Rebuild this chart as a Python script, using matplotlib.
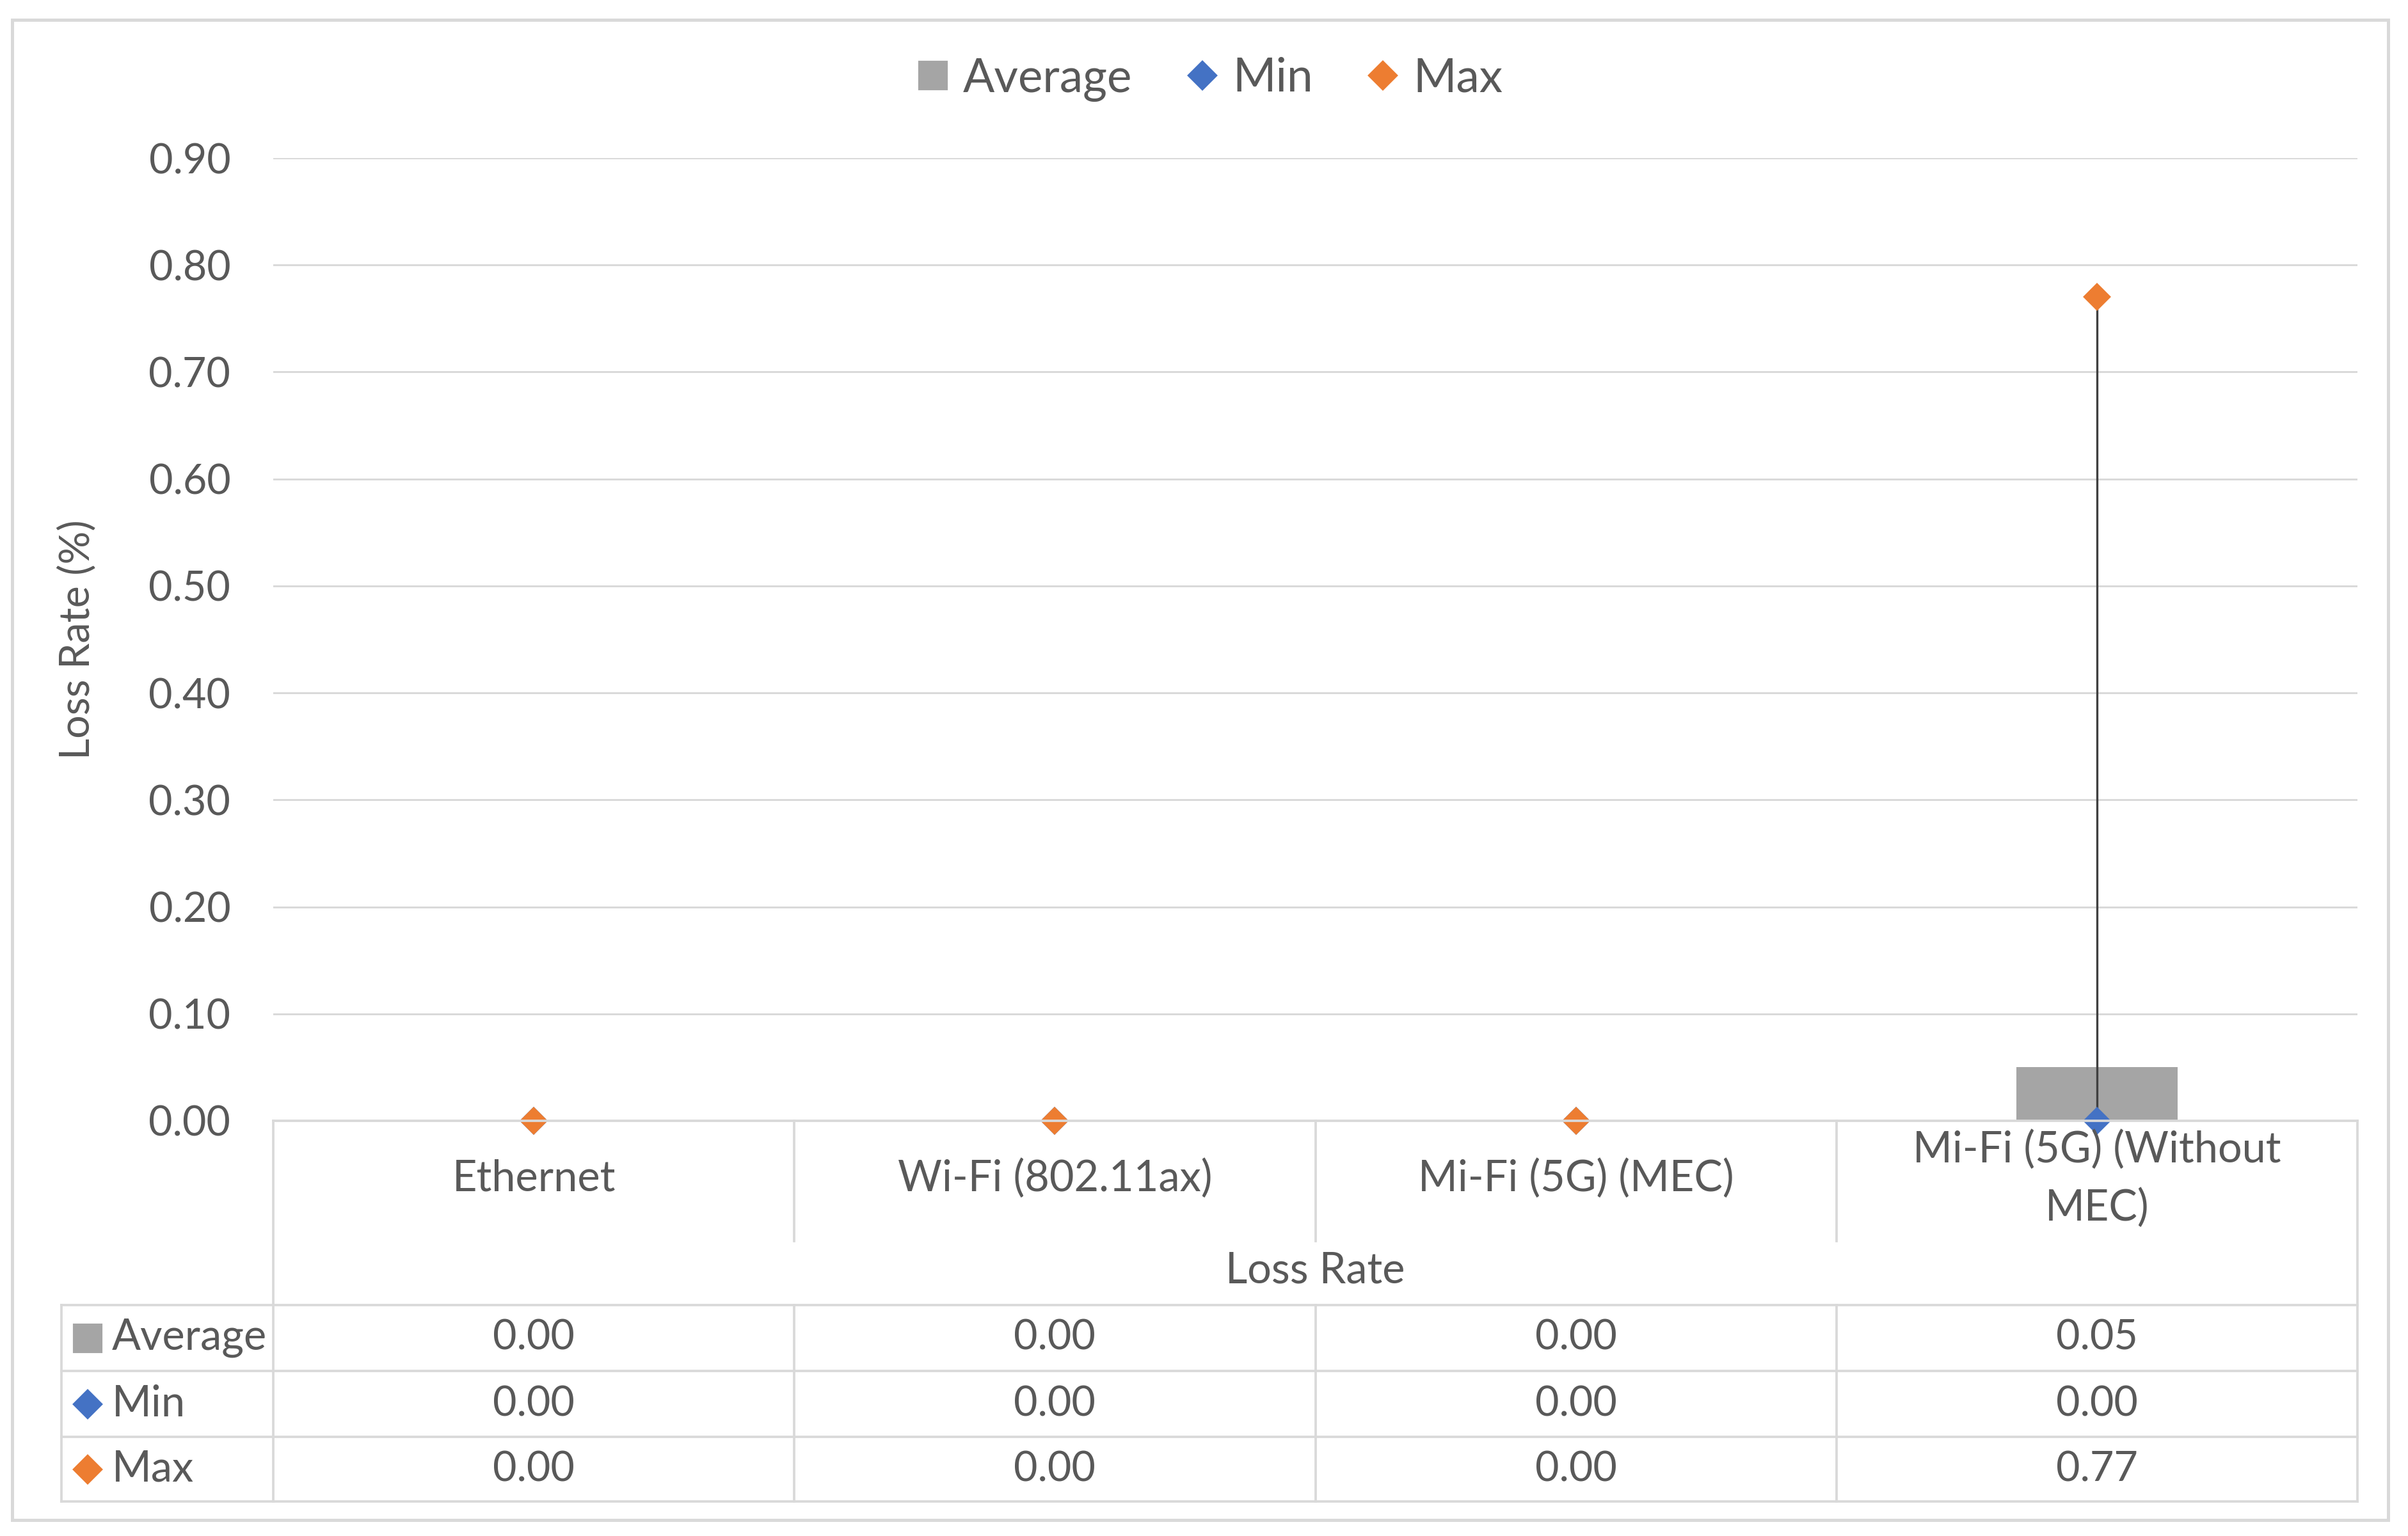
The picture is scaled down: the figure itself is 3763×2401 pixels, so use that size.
import numpy as np
import matplotlib.pyplot as plt
from matplotlib.lines import Line2D
from matplotlib.patches import Rectangle
import matplotlib.transforms as mtransforms

plt.rcParams['font.family'] = ['Lato', 'DejaVu Sans']

categories = ["Ethernet", "Wi-Fi (802.11ax)", "Mi-Fi (5G) (MEC)", "Mi-Fi (5G) (Without\nMEC)"]
avg_vals = [0.00, 0.00, 0.00, 0.05]
min_vals = [0.00, 0.00, 0.00, 0.00]
max_vals = [0.00, 0.00, 0.00, 0.77]
yticks = [0.0, 0.1, 0.2, 0.3, 0.4, 0.5, 0.6, 0.7, 0.8, 0.9]

GRAY = "#A5A5A5"
BLUE = "#4472C4"
ORANGE = "#ED7D31"
TXT = "#595959"
GRID = "#D9D9D9"

W, H = 3763, 2401
fig = plt.figure(figsize=(W / 300, H / 300), dpi=300)


def fx(px):
    return px / W


def fy(py):
    return 1 - py / H


# plot area in pixel coords of the reference
L, R, T, B = 427, 3684, 247, 1752
ax = fig.add_axes([fx(L), fy(B), fx(R) - fx(L), fy(T) - fy(B)])

x = np.arange(len(categories))
ax.bar(x, avg_vals, width=0.31, color=GRAY, zorder=2)
ax.vlines(x, min_vals, max_vals, color="#404040", lw=0.8, zorder=3)
ax.plot(x, min_vals, ls="none", marker="D", ms=6.5, color=BLUE, zorder=5, clip_on=False)
ax.plot(x, max_vals, ls="none", marker="D", ms=6.5, color=ORANGE, zorder=5, clip_on=False)

ax.set_xlim(-0.5, len(categories) - 0.5)
ax.set_ylim(0, 0.9)
ax.set_yticks(yticks)
ax.set_yticklabels([f"{v:.2f}" for v in yticks])
ax.set_xticks([])
ax.tick_params(axis="y", length=0, pad=16, labelsize=15.5, labelcolor=TXT)
ax.grid(axis="y", color=GRID, lw=0.7, zorder=0)
ax.set_axisbelow(True)
for s in ax.spines.values():
    s.set_visible(False)

ax.set_ylabel("Loss Rate (%)", fontsize=15.5, color=TXT)
ax.yaxis.set_label_coords(fx(150 - L) / (fx(R) - fx(L)), 0.5)

# legend
handles = [
    Line2D([], [], ls="none", marker="s", ms=10, color=GRAY),
    Line2D([], [], ls="none", marker="D", ms=7, color=BLUE),
    Line2D([], [], ls="none", marker="D", ms=7, color=ORANGE),
]
fig.legend(handles, ["Average", "Min", "Max"], loc="center", bbox_to_anchor=(fx(1885), fy(124)),
           ncol=3, frameon=False, fontsize=17.5, labelcolor=TXT, handletextpad=0.15,
           columnspacing=1.0, handlelength=1.0)

# data table under the plot
blend = mtransforms.blended_transform_factory(ax.transData, fig.transFigure)
tl = dict(color=GRID, lw=0.9, transform=fig.transFigure, zorder=1)


def hline(py, x0, x1):
    fig.add_artist(Line2D([fx(x0), fx(x1)], [fy(py), fy(py)], **tl))


def vline(px, y0, y1):
    fig.add_artist(Line2D([fx(px), fx(px)], [fy(y0), fy(y1)], **tl))


rows_y = [2040, 2143, 2246, 2347]
hline(B, L, R)
for ry in rows_y:
    hline(ry, 96, R)
vline(L, B, rows_y[-1])
vline(R, B, rows_y[-1])
vline(96, rows_y[0], rows_y[-1])
for k in range(1, len(categories)):
    bx = ax.transData.transform((k - 0.5, 0))[0]
    px = bx / fig.dpi / fig.get_figwidth() * W
    vline(px, B, 1940)
    vline(px, rows_y[0], rows_y[-1])

for i, c in enumerate(categories):
    fig.text(i, fy(1843), c, transform=blend, ha="center", va="center",
             fontsize=16, color=TXT, linespacing=1.55)
fig.text(0.5 * (fx(L) + fx(R)), fy(1987), "Loss Rate", ha="center", va="center",
         fontsize=16, color=TXT)

series = [("Average", avg_vals, "s", GRAY, 10), ("Min", min_vals, "D", BLUE, 7),
          ("Max", max_vals, "D", ORANGE, 7)]
for r, (name, vals, mk, col, ms) in enumerate(series):
    cy = fy(0.5 * (rows_y[r] + rows_y[r + 1]))
    fig.add_artist(Line2D([fx(137)], [cy], ls="none", marker=mk, ms=ms, color=col,
                          transform=fig.transFigure))
    fig.text(fx(175), cy, name, ha="left", va="center", fontsize=16, color=TXT)
    for i, v in enumerate(vals):
        fig.text(i, cy, f"{v:.2f}", transform=blend, ha="center", va="center",
                 fontsize=15.5, color=TXT)

# chart outer frame
fig.add_artist(Rectangle((fx(19), fy(2376)), fx(3732) - fx(19), fy(31) - fy(2376),
                         fill=False, ec=GRID, lw=1.2, transform=fig.transFigure))

fig.savefig("out.png", dpi=300)
